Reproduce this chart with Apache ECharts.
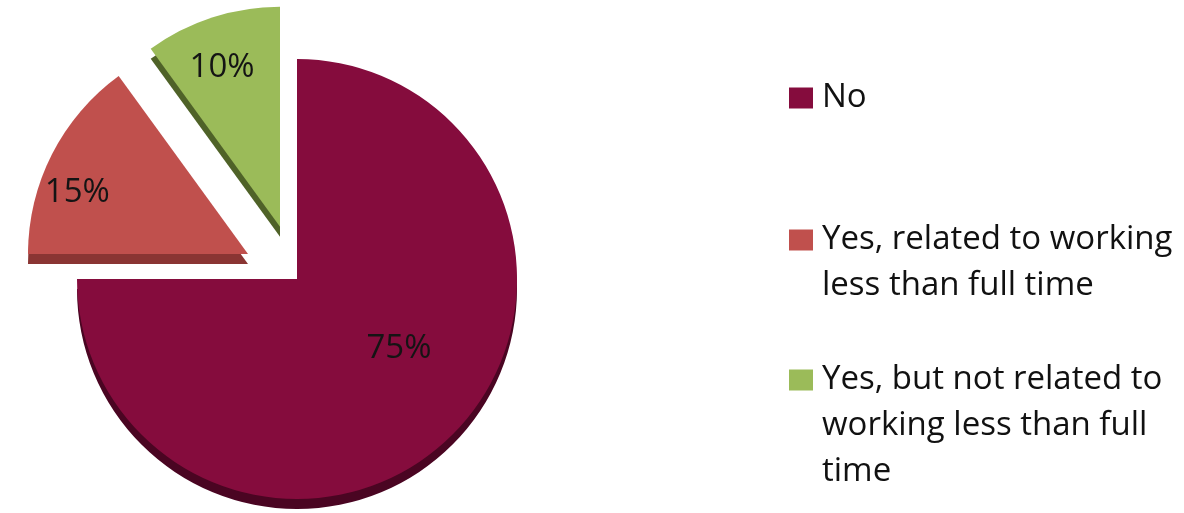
<!DOCTYPE html>
<html>
<head>
<meta charset="utf-8">
<script src="https://cdn.jsdelivr.net/npm/echarts@6/dist/echarts.min.js"></script>
<style>html,body{margin:0;padding:0;background:#fff}#c{width:1184px;height:513px}</style>
</head>
<body>
<div id="c"></div>
<script>
const categories = ['No', 'Yes, related to working less than full time', 'Yes, but not related to working less than full time'];
const values = [75, 15, 10];
const exploded = [false, true, true];
const colors = ['#850C3D', '#C0504D', '#9BBB59'];
const sideColors = ['#4A0522', '#8A3533', '#4F6228'];
const labelShifts = [[22, -10], [-70, -10], [-23, -52]];
const legendTops = [75, 171, 265];

const CENTER = [297, 279];
const RADIUS = 220;
const DEPTH = 10;
const FONT = '"Open Sans", Lato, sans-serif';

function wrap(text, maxChars) {
  const words = text.split(' ');
  const lines = [];
  let cur = '';
  words.forEach(w => {
    const t = cur ? cur + ' ' + w : w;
    if (t.length > maxChars && cur) { lines.push(cur); cur = w; }
    else cur = t;
  });
  if (cur) lines.push(cur);
  return lines;
}

const topData = categories.map((c, i) => ({
  name: c, value: values[i], selected: exploded[i],
  itemStyle: { color: colors[i] }
}));
const sideData = categories.map((c, i) => ({
  name: c, value: values[i], selected: exploded[i],
  itemStyle: { color: sideColors[i] }
}));

const legends = categories.map((c, i) => ({
  data: [{ name: c, itemStyle: { color: colors[i] } }],
  orient: 'vertical',
  left: 789, top: legendTops[i], padding: 0,
  icon: 'rect', itemWidth: 24, itemHeight: 21,
  selectedMode: false,
  formatter: function (name) {
    const lines = wrap(name, 23);
    const pad = new Array(lines.length - 1).fill('');
    return pad.concat(lines).join('\n');
  },
  textStyle: { fontFamily: FONT, fontSize: 33, color: '#111', lineHeight: 46, padding: [0, 0, 0, 4] }
}));

const chart = echarts.init(document.getElementById('c'), null, { renderer: 'canvas' });
chart.setOption({
  animation: false,
  legend: legends,
  series: [
    {
      type: 'pie', z: 3, center: CENTER, radius: RADIUS, startAngle: 90, clockwise: true,
      selectedMode: 'multiple', selectedOffset: 55,
      data: topData,
      label: { show: true, position: 'inside', formatter: '{c}%', fontFamily: FONT, fontSize: 33, color: '#141414' },
      labelLine: { show: false },
      labelLayout: function (p) {
        const s = labelShifts[p.dataIndex];
        return { dx: s[0], dy: s[1] };
      },
      emphasis: { disabled: true }
    },
    {
      type: 'pie', z: 2, center: [CENTER[0], CENTER[1] + DEPTH], radius: RADIUS, startAngle: 90, clockwise: true,
      selectedMode: 'multiple', selectedOffset: 55, silent: true,
      data: sideData,
      label: { show: false }, labelLine: { show: false },
      emphasis: { disabled: true }
    }
  ]
});
</script>
</body>
</html>
